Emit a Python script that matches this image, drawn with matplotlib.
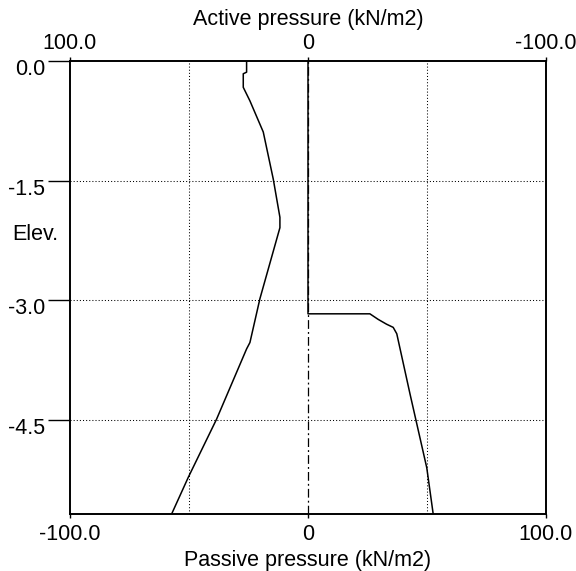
import matplotlib
matplotlib.use("Agg")
import matplotlib.pyplot as plt
from matplotlib.transforms import ScaledTranslation

# Active pressure (kN/m2) vs elevation (m) - plotted on top (reversed) scale
active_elev = [0.0, -0.14, -0.16, -0.33, -0.50, -0.89, -1.48, -1.96, -2.09, -2.98, -3.53, -3.61, -4.49, -5.22, -5.68]
active_p = [25.8, 25.8, 27.2, 27.2, 24.4, 18.8, 14.6, 11.8, 11.8, 20.2, 24.4, 25.8, 38.4, 50.3, 57.3]

# Passive pressure (kN/m2) vs elevation (m) - plotted on bottom scale
passive_elev = [0.0, -3.17, -3.17, -3.24, -3.30, -3.34, -3.42, -4.18, -5.10, -5.68]
passive_p = [0.0, 0.0, 26.0, 29.5, 33.0, 35.8, 37.3, 42.9, 49.9, 52.6]

x_ticks_bottom = [-100, 0, 100]
x_labels_bottom = ["-100.0", "0", "100.0"]
x_ticks_top = [100, 0, -100]
x_labels_top = ["100.0", "0", "-100.0"]
y_ticks = [0.0, -1.5, -3.0, -4.5]
y_labels = ["0.0", "-1.5", "-3.0", "-4.5"]
grid_x = [-50, 50]

plt.rcParams['font.family'] = ['Liberation Sans', 'DejaVu Sans']
FS = 15.5

fig = plt.figure(figsize=(5.76, 5.71), dpi=100)
ax = fig.add_axes([70/576, 57/571, 476/576, 453/571])
ax.set_xlim(-100, 100)
ax.set_ylim(-5.68, 0)

# grid lines
for gx in grid_x:
    ax.axvline(gx, color='black', lw=0.75, linestyle=(0, (1, 2)), zorder=1)
for gy in y_ticks[1:]:
    ax.axhline(gy, color='black', lw=0.75, linestyle=(0, (1, 2)), zorder=1)
ax.axvline(0, color='black', lw=0.9, linestyle=(0, (7, 2.5, 1.5, 2.5)), zorder=1)

ax.plot(passive_p, passive_elev, color='black', lw=1.1, zorder=3)

ax.set_xticks(x_ticks_bottom)
ax.set_xticklabels(x_labels_bottom, fontsize=FS)
ax.set_yticks(y_ticks)
ax.set_yticklabels(y_labels, fontsize=FS)
ax.tick_params(axis='x', direction='out', length=3, width=1, pad=4)
ax.tick_params(axis='y', direction='out', length=16, width=1, pad=2)
ax.set_xlabel("Passive pressure (kN/m2)", fontsize=FS, labelpad=4)
ax.set_ylabel("Elev.", fontsize=FS, rotation=0, ha='center', va='center')
ax.yaxis.set_label_coords(-0.0735, 0.616)
for lab in ax.get_yticklabels():
    lab.set_transform(lab.get_transform() + ScaledTranslation(0, -6/100, fig.dpi_scale_trans))

ax2 = ax.twiny()
ax2.set_xlim(100, -100)
ax2.plot(active_p, active_elev, color='black', lw=1.1, zorder=3)
ax2.set_xticks(x_ticks_top)
ax2.set_xticklabels(x_labels_top, fontsize=FS)
ax2.tick_params(axis='x', direction='out', length=3, width=1, pad=2)
ax2.set_xlabel("Active pressure (kN/m2)", fontsize=FS, labelpad=6)

for a in (ax, ax2):
    for s in a.spines.values():
        s.set_linewidth(1.2)
        s.set_color('black')

fig.savefig("out.png", dpi=100, facecolor='white')
